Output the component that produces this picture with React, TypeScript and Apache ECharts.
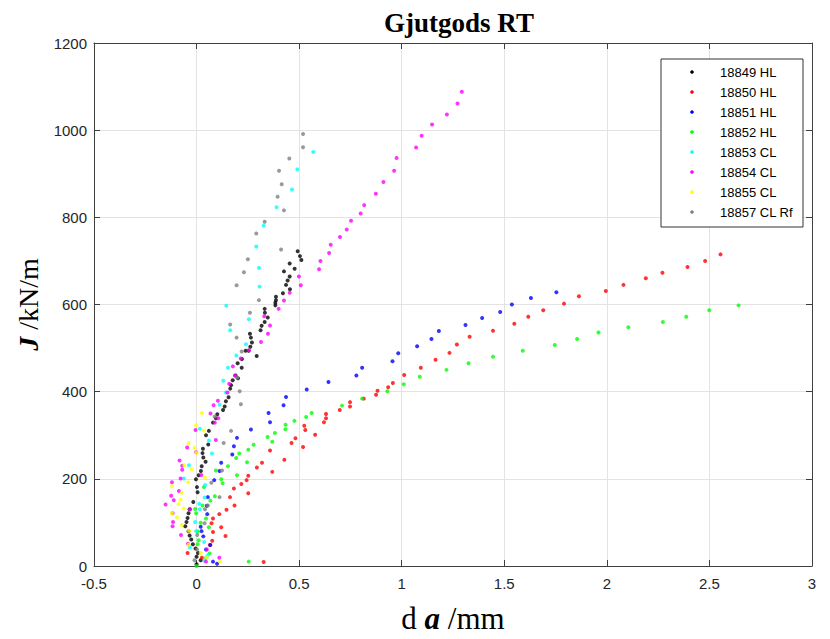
import React, { useEffect, useRef } from "react";
import * as echarts from "echarts";

const xTicks = { min: -0.5, max: 3, interval: 0.5 };
const yTicks = { min: 0, max: 1200, interval: 200 };

const seriesNames = [
  "18849 HL",
  "18850 HL",
  "18851 HL",
  "18852 HL",
  "18853 CL",
  "18854 CL",
  "18855 CL",
  "18857 CL Rf",
];
const seriesColors = ["#000000", "#ff0000", "#0000ff", "#00ff00", "#00ffff", "#ff00ff", "#ffff00", "#808080"];

const s18849 = [
  [0.0, 4], [0.02, 13], [0.0, 21], [0.007, 30], [-0.005, 40], [-0.018, 50], [-0.026, 61], [-0.034, 70],
  [-0.039, 80], [-0.055, 91], [-0.049, 101], [-0.044, 110], [-0.039, 121], [-0.034, 130], [-0.016, 147],
  [0.005, 169], [0.002, 181], [-0.003, 199], [0.01, 208], [0.021, 218], [0.025, 229], [0.044, 239],
  [0.033, 249], [0.029, 259], [0.031, 269], [0.057, 279], [0.046, 300], [0.06, 310], [0.08, 329],
  [0.094, 339], [0.101, 348], [0.129, 358], [0.137, 366], [0.143, 378], [0.156, 387], [0.164, 407],
  [0.168, 415], [0.176, 426], [0.202, 431], [0.19, 437], [0.22, 455], [0.2, 465], [0.221, 475],
  [0.293, 482], [0.239, 494], [0.254, 494], [0.262, 503], [0.27, 513], [0.265, 524], [0.26, 533],
  [0.312, 541], [0.317, 551], [0.332, 560], [0.347, 570], [0.333, 581], [0.332, 590], [0.384, 598],
  [0.384, 604], [0.387, 610], [0.387, 618], [0.421, 626], [0.455, 635], [0.436, 645], [0.444, 655],
  [0.454, 664], [0.426, 676], [0.478, 682], [0.454, 694], [0.511, 702], [0.504, 711], [0.493, 722],
];

const s18850 = [
  [0.327, 9], [0.026, 19], [-0.044, 30], [0.065, 48], [0.076, 58], [0.141, 69], [0.08, 78], [0.12, 89],
  [0.073, 98], [0.08, 109], [0.111, 119], [0.146, 129], [0.185, 139], [0.163, 158], [0.252, 167],
  [0.182, 178], [0.218, 188], [0.244, 197], [0.252, 207], [0.369, 216], [0.294, 226], [0.319, 237],
  [0.428, 244], [0.358, 265], [0.519, 273], [0.463, 282], [0.482, 293], [0.578, 301], [0.53, 312],
  [0.525, 322], [0.621, 330], [0.631, 339], [0.631, 349], [0.698, 358], [0.748, 366], [0.748, 376],
  [0.815, 384], [0.875, 393], [0.882, 402], [0.934, 410], [0.957, 420], [1.012, 438], [1.093, 455],
  [1.165, 473], [1.233, 489], [1.269, 508], [1.331, 526], [1.445, 540], [1.549, 556], [1.617, 572],
  [1.69, 587], [1.791, 602], [1.864, 619], [1.995, 631], [2.081, 645], [2.19, 660], [2.271, 673],
  [2.393, 686], [2.479, 700], [2.554, 715],
];

const s18851 = [
  [0.1, 5], [0.08, 10], [0.046, 38], [0.067, 48], [0.033, 68], [0.024, 80], [0.02, 90], [0.052, 119],
  [0.05, 138], [0.055, 158], [0.086, 197], [0.112, 218], [0.12, 237], [0.174, 256], [0.182, 275],
  [0.197, 294], [0.265, 313], [0.358, 330], [0.351, 351], [0.424, 369], [0.436, 388], [0.537, 405],
  [0.643, 422], [0.779, 437], [0.807, 455], [0.955, 470], [0.983, 488], [1.075, 504], [1.145, 521],
  [1.181, 539], [1.311, 553], [1.392, 569], [1.48, 583], [1.537, 600], [1.63, 615], [1.754, 628],
];

const s18852 = [
  [0.0, 0], [0.254, 10], [0.047, 19], [0.063, 29], [0.005, 50], [0.01, 59], [0.005, 79], [0.06, 89],
  [0.02, 99], [0.046, 109], [-0.002, 121], [-0.007, 131], [0.029, 139], [0.067, 150], [0.089, 160],
  [0.036, 181], [0.127, 190], [0.12, 199], [0.197, 208], [0.094, 219], [0.153, 229], [0.246, 238],
  [0.193, 248], [0.208, 258], [0.252, 267], [0.278, 278], [0.369, 285], [0.346, 296], [0.382, 305],
  [0.433, 314], [0.434, 324], [0.477, 333], [0.534, 342], [0.561, 351], [0.709, 368], [0.807, 384],
  [0.93, 401], [1.01, 417], [1.088, 434], [1.218, 450], [1.326, 465], [1.445, 480], [1.59, 494],
  [1.746, 507], [1.855, 521], [1.959, 536], [2.105, 548], [2.273, 560], [2.387, 572], [2.499, 587],
  [2.642, 598],
];

const s18853 = [
  [0.039, 12], [0.054, 24], [-0.033, 43], [0.037, 55], [-0.002, 80], [-0.007, 101], [0.016, 130],
  [0.013, 143], [0.039, 157], [0.042, 186], [-0.062, 201], [-0.037, 231], [0.075, 258], [0.06, 288],
  [0.016, 315], [0.112, 370], [0.143, 398], [0.13, 425], [0.153, 455], [0.194, 483], [0.241, 509],
  [0.164, 541], [0.255, 566], [0.145, 597], [0.307, 641], [0.304, 684], [0.291, 733], [0.327, 781],
  [0.39, 823], [0.465, 864], [0.491, 910], [0.569, 950],
];

const s18854 = [
  [0.046, 10], [0.111, 19], [0.05, 38], [-0.042, 51], [-0.076, 71], [-0.117, 91], [-0.115, 101],
  [-0.117, 121], [-0.031, 130], [-0.151, 141], [-0.111, 151], [-0.124, 161], [-0.086, 172],
  [-0.12, 192], [-0.078, 201], [0.023, 209], [-0.07, 221], [-0.07, 230], [-0.083, 242], [-0.002, 261],
  [-0.046, 272], [0.094, 289], [-0.005, 312], [0.089, 329], [0.106, 339], [0.068, 350], [0.083, 369],
  [0.104, 379], [0.151, 398], [0.159, 418], [0.187, 437], [0.177, 458], [0.215, 476], [0.255, 495],
  [0.314, 514], [0.348, 533], [0.358, 552], [0.33, 573], [0.4, 590], [0.426, 609], [0.454, 627],
  [0.508, 644], [0.499, 664], [0.597, 681], [0.604, 700], [0.646, 718], [0.654, 737], [0.699, 755],
  [0.732, 772], [0.753, 792], [0.8, 809], [0.817, 828], [0.874, 854], [0.911, 881], [0.963, 907],
  [0.975, 936], [1.07, 960], [1.097, 987], [1.148, 1013], [1.22, 1036], [1.272, 1061], [1.293, 1088],
];

const s18855 = [
  [0.115, 10], [0.05, 20], [0.02, 30], [-0.039, 49], [-0.037, 81], [-0.072, 94], [-0.096, 112],
  [-0.12, 121], [-0.063, 132], [-0.088, 142], [-0.078, 152], [-0.073, 168], [-0.12, 183], [-0.041, 192],
  [0.041, 203], [-0.024, 222], [-0.06, 231], [0.0, 260], [-0.01, 271], [-0.039, 282], [0.036, 311],
  [-0.003, 323], [0.026, 351],
];

const s18857 = [
  [-0.01, 13], [0.002, 38], [0.003, 71], [0.039, 98], [0.041, 130], [0.055, 139], [0.112, 158],
  [0.072, 191], [0.124, 219], [0.132, 282], [0.168, 310], [0.088, 343], [0.216, 371], [0.21, 401],
  [0.198, 432], [0.22, 492], [0.195, 524], [0.164, 554], [0.26, 581], [0.304, 610], [0.195, 644],
  [0.231, 674], [0.25, 704], [0.412, 726], [0.291, 763], [0.332, 790], [0.426, 816], [0.395, 847],
  [0.415, 876], [0.402, 907], [0.452, 935], [0.519, 961], [0.519, 991],
];

const allSeries = [s18849, s18850, s18851, s18852, s18853, s18854, s18855, s18857];

export default function App() {
  const ref = useRef<HTMLDivElement>(null);
  useEffect(() => {
    const chart = echarts.init(ref.current!, null, { renderer: "svg" });
    const axisColor = "#404040";
    const gridLeft = 94, gridTop = 43, gridW = 718, gridH = 533;
    const baseX = {
      type: "value",
      min: xTicks.min,
      max: xTicks.max,
      interval: xTicks.interval,
    };
    const baseY = {
      type: "value",
      min: yTicks.min,
      max: yTicks.max,
      interval: yTicks.interval,
    };
    const axisLine = { show: true, onZero: false, lineStyle: { color: axisColor, width: 1 } };
    const axisTick = { show: true, inside: true, length: 6, lineStyle: { color: axisColor } };
    const serif = "'Liberation Serif', 'DejaVu Serif', serif";
    const legendItems: any[] = [
      {
        type: "rect",
        shape: { x: 661, y: 59, width: 142, height: 168 },
        style: { fill: "#ffffff", stroke: "#333333", lineWidth: 1 },
        z: 100,
      },
    ];
    seriesNames.forEach((n, i) => {
      const cy = 72 + 20 * i;
      legendItems.push({
        type: "circle",
        shape: { cx: 692, cy, r: 1.8 },
        style: { fill: seriesColors[i] },
        z: 101,
      });
      legendItems.push({
        type: "text",
        x: 720,
        y: cy,
        style: {
          text: n,
          fill: "#000000",
          font: "13px 'Liberation Sans', Arial, sans-serif",
          verticalAlign: "middle",
        },
        z: 101,
      });
    });
    chart.setOption({
      animation: false,
      backgroundColor: "#ffffff",
      title: {
        text: "Gjutgods RT",
        left: 454,
        top: 4,
        textAlign: "center",
        textStyle: {
          fontFamily: serif,
          fontWeight: "bold",
          fontSize: 27,
          color: "#000000",
        },
      },
      grid: { left: gridLeft, top: gridTop, width: gridW, height: gridH, containLabel: false },
      xAxis: [
        {
          ...baseX,
          position: "bottom",
          axisLine,
          axisTick,
          axisLabel: {
            fontFamily: "'Liberation Sans', Arial, sans-serif",
            fontSize: 15,
            color: "#262626",
            margin: 10,
            formatter: (v: number) => String(v),
          },
          splitLine: { show: true, lineStyle: { color: "#e3e3e3", width: 1 } },
          name: "{n|d} {i|a} {n|/mm}",
          nameLocation: "middle",
          nameGap: 37,
          nameTextStyle: {
            fontFamily: serif,
            fontSize: 31,
            color: "#000000",
            rich: {
              i: {
                fontFamily: serif,
                fontSize: 31,
                fontWeight: "bold",
                fontStyle: "italic",
                color: "#000",
              },
              n: { fontFamily: serif, fontSize: 31, color: "#000" },
            },
          },
        },
        {
          ...baseX,
          position: "top",
          axisLine,
          axisTick,
          axisLabel: { show: false },
          splitLine: { show: false },
        },
      ],
      yAxis: [
        {
          ...baseY,
          position: "left",
          axisLine,
          axisTick,
          axisLabel: {
            fontFamily: "'Liberation Sans', Arial, sans-serif",
            fontSize: 15,
            color: "#262626",
            margin: 7,
            formatter: (v: number) => String(v),
          },
          splitLine: { show: true, lineStyle: { color: "#e3e3e3", width: 1 } },
          name: "{i|J} {n|/kN/m}",
          nameLocation: "middle",
          nameRotate: 90,
          nameGap: 46,
          nameTextStyle: {
            fontFamily: serif,
            fontSize: 28,
            color: "#000000",
            rich: {
              i: {
                fontFamily: serif,
                fontSize: 28,
                fontWeight: "bold",
                fontStyle: "italic",
                color: "#000",
              },
              n: { fontFamily: serif, fontSize: 28, color: "#000" },
            },
          },
        },
        {
          ...baseY,
          position: "right",
          axisLine,
          axisTick,
          axisLabel: { show: false },
          splitLine: { show: false },
        },
      ],
      series: allSeries.map((d, i) => ({
        name: seriesNames[i],
        type: "scatter",
        xAxisIndex: 0,
        yAxisIndex: 0,
        data: d,
        symbol: "circle",
        symbolSize: 4,
        itemStyle: { color: seriesColors[i] },
        z: 2 + i,
      })),
      graphic: legendItems,
    });
    return () => chart.dispose();
  }, []);
  return (
    <div
      ref={ref}
      style={{ position: "fixed", left: 0, top: 0, width: 830, height: 639, background: "#fff" }}
    />
  );
}
